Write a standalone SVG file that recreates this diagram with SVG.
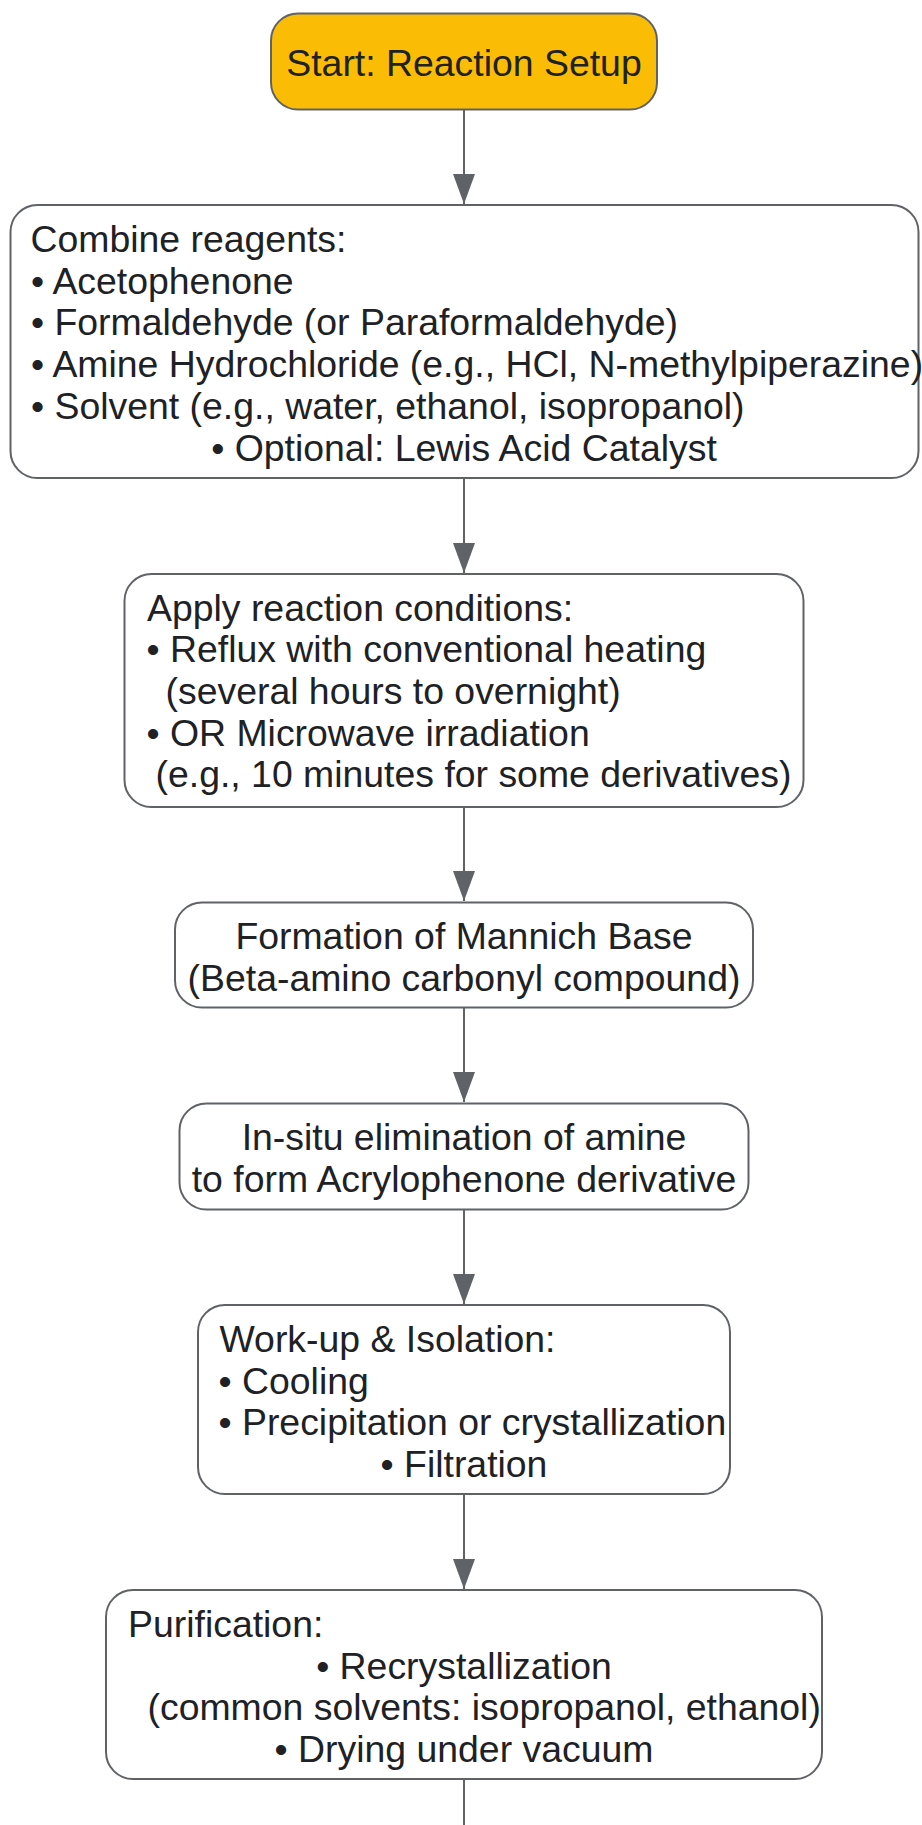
<svg xmlns="http://www.w3.org/2000/svg" width="922" height="1825" viewBox="0 0 922 1825">
<style>
.box{fill:#ffffff;stroke:#5f6368;stroke-width:2}
.start{fill:#fbbc05;stroke:#5f6368;stroke-width:2}
.t{font-family:"Liberation Sans",Arial,sans-serif;font-size:37.4px;fill:#202124}
.c{text-anchor:middle}
.edge{stroke:#5f6368;stroke-width:2;fill:none}
</style>
<defs>
<marker id="arr" viewBox="0 0 30 22" refX="30" refY="11" markerWidth="30" markerHeight="22" markerUnits="userSpaceOnUse" orient="auto">
<path d="M0,0 L30,11 L0,22 z" fill="#5f6368"/>
</marker>
</defs>
<rect width="922" height="1825" fill="#ffffff"/>
<g id="connectors">
<line class="edge" x1="464" y1="110" x2="464" y2="204" marker-end="url(#arr)"/>
<line class="edge" x1="464" y1="479" x2="464" y2="573" marker-end="url(#arr)"/>
<line class="edge" x1="464" y1="808" x2="464" y2="901" marker-end="url(#arr)"/>
<line class="edge" x1="464" y1="1008" x2="464" y2="1102" marker-end="url(#arr)"/>
<line class="edge" x1="464" y1="1210" x2="464" y2="1304" marker-end="url(#arr)"/>
<line class="edge" x1="464" y1="1495" x2="464" y2="1589" marker-end="url(#arr)"/>
<line class="edge" x1="464" y1="1780" x2="464" y2="1830"/>
</g>
<g id="start">
<rect class="start" x="271" y="13.5" width="386" height="96" rx="27"/>
<text class="t c" x="464" y="76">Start: Reaction Setup</text>
</g>
<g id="combine">
<rect class="box" x="10.5" y="205" width="908" height="273" rx="27"/>
<text class="t" x="30.5" y="252">Combine reagents:</text>
<text class="t" x="31" y="293.7">• Acetophenone</text>
<text class="t" x="31" y="335.4">• Formaldehyde (or Paraformaldehyde)</text>
<text class="t" x="31" y="377.1">• Amine Hydrochloride (e.g., HCl, N-methylpiperazine)</text>
<text class="t" x="31" y="418.8">• Solvent (e.g., water, ethanol, isopropanol)</text>
<text class="t c" x="464" y="460.5">• Optional: Lewis Acid Catalyst</text>
</g>
<g id="apply">
<rect class="box" x="124.5" y="574" width="679" height="233" rx="27"/>
<text class="t" x="147" y="620.5">Apply reaction conditions:</text>
<text class="t" x="146.5" y="662.2">• Reflux with conventional heating</text>
<text class="t" x="165.5" y="703.9">(several hours to overnight)</text>
<text class="t" x="146.5" y="745.6">• OR Microwave irradiation</text>
<text class="t" x="155.5" y="787.3">(e.g., 10 minutes for some derivatives)</text>
</g>
<g id="formation">
<rect class="box" x="175" y="902.5" width="578" height="105" rx="27"/>
<text class="t c" x="464" y="949">Formation of Mannich Base</text>
<text class="t c" x="464" y="990.7">(Beta-amino carbonyl compound)</text>
</g>
<g id="insitu">
<rect class="box" x="179.5" y="1103.5" width="569" height="106" rx="27"/>
<text class="t c" x="464" y="1150">In-situ elimination of amine</text>
<text class="t c" x="464" y="1191.7">to form Acrylophenone derivative</text>
</g>
<g id="workup">
<rect class="box" x="198" y="1305" width="532" height="189" rx="27"/>
<text class="t" x="219.5" y="1352">Work-up &amp; Isolation:</text>
<text class="t" x="218.5" y="1393.7">• Cooling</text>
<text class="t" x="218.5" y="1435.4">• Precipitation or crystallization</text>
<text class="t c" x="464" y="1477.1">• Filtration</text>
</g>
<g id="purification">
<rect class="box" x="106" y="1590" width="716" height="189" rx="27"/>
<text class="t" x="128" y="1637">Purification:</text>
<text class="t c" x="464" y="1678.7">• Recrystallization</text>
<text class="t" x="147.5" y="1720.4">(common solvents: isopropanol, ethanol)</text>
<text class="t c" x="464" y="1762.1">• Drying under vacuum</text>
</g>
</svg>
